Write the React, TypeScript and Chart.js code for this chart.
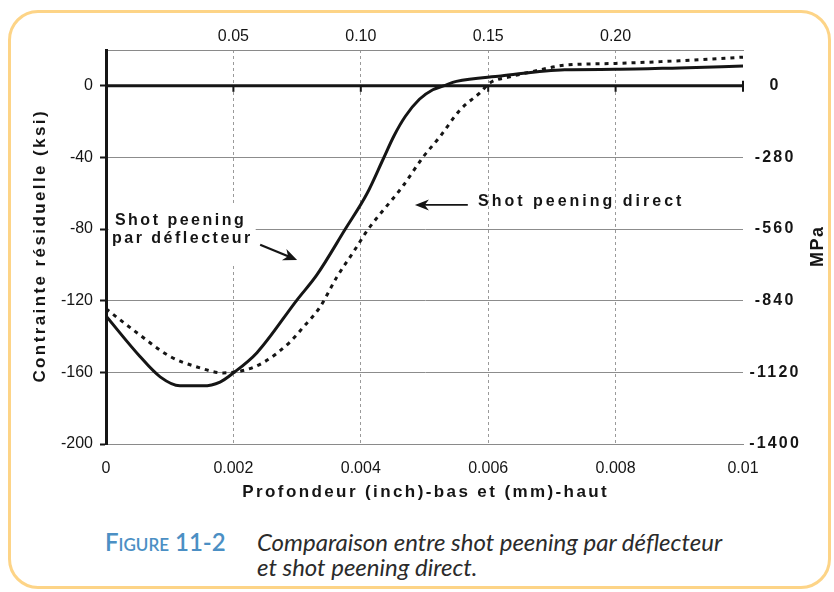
import React, { useEffect, useRef } from "react";
import { Chart, registerables } from "chart.js";

Chart.register(...registerables);

// ---------- data ----------
const depthTicks = [0, 0.002, 0.004, 0.006, 0.008, 0.01];
const depthTickLabels = ["0", "0.002", "0.004", "0.006", "0.008", "0.01"];
const mmTicks = [0.002, 0.004, 0.006, 0.008];
const mmTickLabels = ["0.05", "0.10", "0.15", "0.20"];
const ksiTicks = [0, -40, -80, -120, -160, -200];
const mpaTicks = [0, -280, -560, -840, -1120, -1400];

// Shot peening par déflecteur (solid)
const deflX = [0, 0.00053, 0.00085, 0.00116, 0.00152, 0.00179, 0.002, 0.00237, 0.003, 0.00331, 0.00375, 0.0041, 0.00435, 0.00452, 0.0047, 0.00492, 0.00513, 0.0053, 0.0055, 0.0062, 0.0072, 0.008, 0.009, 0.01];
const deflY = [-128.5, -151, -162.5, -167.5, -167.5, -165.4, -160.3, -149, -119.5, -105.6, -80.4, -60, -41, -28, -17, -7.5, -2.2, 0, 2.5, 5.5, 9, 9.2, 10, 11];

// Shot peening direct (dotted)
const directX = [0, 0.00049, 0.001, 0.00143, 0.00184, 0.00215, 0.00246, 0.00289, 0.0031, 0.00336, 0.00362, 0.00388, 0.00411, 0.00466, 0.00498, 0.00524, 0.00556, 0.00587, 0.00603, 0.00634, 0.0067, 0.0072, 0.008, 0.009, 0.01];
const directY = [-124.5, -138, -151, -157, -160.3, -159, -154.7, -143, -134.6, -123.5, -107, -93, -80.4, -56, -39.7, -28.5, -13.4, -3.9, 1.7, 5, 8, 11.5, 12.5, 14, 16];

// ---------- texts ----------
const xTitle = "Profondeur (inch)-bas et (mm)-haut";
const yTitle = "Contrainte résiduelle (ksi)";
const y2Title = "MPa";
const deflLabel = ["Shot peening", "par déflecteur"];
const directLabel = "Shot peening direct";
const captionNum = "Figure 11-2";
const captionLines = ["Comparaison entre shot peening par déflecteur", "et shot peening direct."];

// ---------- annotation anchors (data units) ----------
const deflLabelPos = [
  { x: 0.00014, y: -77.6 },
  { x: 0.000094, y: -87.7 },
];
const deflBox = { x0: 0.00004, x1: 0.00235, y0: -66.5, y1: -100.6 };
const deflArrow = { x0: 0.00242, y0: -88.8, x1: 0.003, y1: -97.2 };
const directLabelPos = { x: 0.00584, y: -67 };
const directArrow = { x0: 0.00568, y0: -66.5, x1: 0.00485, y1: -66.5 };

const FONT = "'Liberation Sans', Arial, sans-serif";
const INK = "#151515";

function spacedText(
  ctx: CanvasRenderingContext2D,
  text: string,
  x: number,
  y: number,
  font: string,
  spacing: number,
  align: "left" | "center",
  baseline: CanvasTextBaseline = "alphabetic"
) {
  ctx.save();
  ctx.font = font;
  (ctx as any).letterSpacing = spacing + "px";
  ctx.fillStyle = INK;
  ctx.textBaseline = baseline;
  ctx.textAlign = "left";
  const w = ctx.measureText(text).width - spacing;
  const sx = align === "center" ? x - w / 2 : x;
  ctx.fillText(text, sx, y);
  ctx.restore();
}

function arrow(
  ctx: CanvasRenderingContext2D,
  x1: number,
  y1: number,
  x2: number,
  y2: number,
  head: number,
  half: number,
  width: number
) {
  const ang = Math.atan2(y2 - y1, x2 - x1);
  const c = Math.cos(ang);
  const s = Math.sin(ang);
  ctx.save();
  ctx.strokeStyle = INK;
  ctx.fillStyle = INK;
  ctx.lineWidth = width;
  ctx.beginPath();
  ctx.moveTo(x1, y1);
  ctx.lineTo(x2 - c * head * 0.6, y2 - s * head * 0.6);
  ctx.stroke();
  ctx.beginPath();
  ctx.moveTo(x2, y2);
  ctx.lineTo(x2 - c * head - s * half, y2 - s * head + c * half);
  ctx.lineTo(x2 - c * head * 0.7, y2 - s * head * 0.7);
  ctx.lineTo(x2 - c * head + s * half, y2 - s * head - c * half);
  ctx.closePath();
  ctx.fill();
  ctx.restore();
}

const overlayPlugin = {
  id: "overlay",
  beforeDatasetsDraw(chart: any) {
    const { ctx, chartArea: a, scales } = chart;
    const xs = scales.x;
    const ys = scales.y;
    ctx.save();
    // white box behind the deflector label
    const bx0 = xs.getPixelForValue(deflBox.x0);
    const bx1 = xs.getPixelForValue(deflBox.x1);
    const by0 = ys.getPixelForValue(deflBox.y0);
    const by1 = ys.getPixelForValue(deflBox.y1);
    ctx.fillStyle = "#ffffff";
    ctx.fillRect(bx0, by0, bx1 - bx0, by1 - by0);
    // thick zero line with ticks
    const y0 = ys.getPixelForValue(0);
    ctx.strokeStyle = INK;
    ctx.lineWidth = 3;
    ctx.beginPath();
    ctx.moveTo(a.left, y0);
    ctx.lineTo(a.right, y0);
    ctx.stroke();
    ctx.lineWidth = 2;
    depthTicks.slice(1).forEach((v, i, arr) => {
      const px = xs.getPixelForValue(v);
      ctx.beginPath();
      ctx.moveTo(px, i === arr.length - 1 ? y0 - 5 : y0);
      ctx.lineTo(px, y0 + 6);
      ctx.stroke();
    });
    ctx.restore();
  },
  afterDraw(chart: any) {
    const { ctx, chartArea: a, scales } = chart;
    const xs = scales.x;
    const ys = scales.y;
    const y2 = scales.y2;
    const midY = (a.top + a.bottom) / 2;
    const titleFont = `bold 17px ${FONT}`;

    // bottom title
    spacedText(ctx, xTitle, (a.left + a.right) / 2, a.bottom + 48, titleFont, 2.4, "center", "middle");

    // left title
    ctx.save();
    ctx.translate(a.left - 66, midY);
    ctx.rotate(-Math.PI / 2);
    spacedText(ctx, yTitle, 0, 0, titleFont, 2.4, "center", "middle");
    ctx.restore();

    // right title
    ctx.save();
    ctx.translate(a.right + 75, midY);
    ctx.rotate(-Math.PI / 2);
    spacedText(ctx, y2Title, 0, 0, `bold 18px ${FONT}`, 1.5, "center", "middle");
    ctx.restore();

    // right tick labels (MPa)
    mpaTicks.forEach((v) => {
      spacedText(ctx, String(v), a.right + 31, y2.getPixelForValue(v), `bold 16px ${FONT}`, 2.2, "center", "middle");
    });

    // annotations
    const lf = `bold 16px ${FONT}`;
    deflLabel.forEach((t, i) => {
      spacedText(ctx, t, xs.getPixelForValue(deflLabelPos[i].x), ys.getPixelForValue(deflLabelPos[i].y), lf, 2.5, "left");
    });
    arrow(
      ctx,
      xs.getPixelForValue(deflArrow.x0),
      ys.getPixelForValue(deflArrow.y0),
      xs.getPixelForValue(deflArrow.x1),
      ys.getPixelForValue(deflArrow.y1),
      14,
      6,
      2.2
    );
    spacedText(ctx, directLabel, xs.getPixelForValue(directLabelPos.x), ys.getPixelForValue(directLabelPos.y), lf, 3, "left");
    arrow(
      ctx,
      xs.getPixelForValue(directArrow.x0),
      ys.getPixelForValue(directArrow.y0),
      xs.getPixelForValue(directArrow.x1),
      ys.getPixelForValue(directArrow.y1),
      14,
      5.5,
      1.8
    );
  },
};

function ChartCanvas() {
  const ref = useRef<HTMLCanvasElement | null>(null);
  useEffect(() => {
    if (!ref.current) return;
    const tickFont = { family: FONT, size: 16 };
    const chart = new Chart(ref.current, {
      type: "scatter",
      data: {
        datasets: [
          {
            label: "Shot peening par déflecteur",
            data: deflX.map((x, i) => ({ x, y: deflY[i] })),
            borderColor: INK,
            borderWidth: 3,
            showLine: true,
            pointRadius: 0,
            cubicInterpolationMode: "monotone",
            xAxisID: "x",
            yAxisID: "y",
          },
          {
            label: "Shot peening direct",
            data: directX.map((x, i) => ({ x, y: directY[i] })),
            borderColor: INK,
            borderWidth: 3,
            borderDash: [4, 5],
            showLine: true,
            pointRadius: 0,
            cubicInterpolationMode: "monotone",
            xAxisID: "x",
            yAxisID: "y",
          },
        ],
      },
      options: {
        responsive: false,
        animation: false,
        layout: { padding: 0 },
        plugins: {
          legend: { display: false },
          tooltip: { enabled: false },
          title: { display: false },
        },
        scales: {
          x: {
            type: "linear",
            position: "bottom",
            min: 0,
            max: 0.01,
            afterBuildTicks: (s: any) => {
              s.ticks = depthTicks.map((v) => ({ value: v }));
            },
            afterFit: (s: any) => {
              s.height = 76;
            },
            ticks: {
              callback: (_v: any, i: number) => depthTickLabels[i],
              font: tickFont,
              color: INK,
              padding: 15,
              maxRotation: 0,
              autoSkip: false,
            },
            grid: {
              color: (c: any) =>
                c.tick && (c.tick.value === 0 || c.tick.value === 0.01) ? "rgba(0,0,0,0)" : "#9a9a9a",
              lineWidth: 1,
              drawTicks: false,
            },
            border: { display: true, color: "#8a8a8a", width: 1, dash: [3, 3] },
          },
          x2: {
            type: "linear",
            position: "top",
            min: 0,
            max: 0.01,
            afterBuildTicks: (s: any) => {
              s.ticks = mmTicks.map((v) => ({ value: v }));
            },
            afterFit: (s: any) => {
              s.height = 50;
            },
            ticks: {
              callback: (_v: any, i: number) => mmTickLabels[i],
              font: tickFont,
              color: INK,
              padding: 4,
              maxRotation: 0,
              autoSkip: false,
            },
            grid: { display: false, drawTicks: false },
            border: { display: true, color: "#8a8a8a", width: 1 },
          },
          y: {
            type: "linear",
            position: "left",
            min: -200,
            max: 20,
            afterBuildTicks: (s: any) => {
              s.ticks = ksiTicks.map((v) => ({ value: v }));
            },
            afterFit: (s: any) => {
              s.width = 106;
            },
            ticks: {
              callback: (v: any) => String(v),
              font: tickFont,
              color: INK,
              padding: 7,
            },
            grid: {
              color: (c: any) =>
                c.tick && (c.tick.value === 0 || c.tick.value === -200) ? "rgba(0,0,0,0)" : "#8c8c8c",
              lineWidth: 1,
              tickColor: INK,
              tickLength: 6,
              tickWidth: 2,
              drawTicks: true,
            },
            border: { display: true, color: INK, width: 3 },
          },
          y2: {
            type: "linear",
            position: "right",
            min: -1400,
            max: 140,
            afterBuildTicks: (s: any) => {
              s.ticks = mpaTicks.map((v) => ({ value: v }));
            },
            afterFit: (s: any) => {
              s.width = 91;
            },
            ticks: { display: false },
            grid: { display: false, drawTicks: false },
            border: { display: false },
          },
        },
      } as any,
      plugins: [overlayPlugin],
    });
    return () => chart.destroy();
  }, []);
  return <canvas ref={ref} width={834} height={520} style={{ position: "absolute", left: 0, top: 0, width: 834, height: 520 }} />;
}

export default function App() {
  return (
    <div style={{ position: "absolute", left: 0, top: 0, width: 834, height: 592, overflow: "hidden", background: "#fff" }}>
      <div
        style={{
          position: "absolute",
          left: 8,
          top: 10,
          width: 823,
          height: 579,
          boxSizing: "border-box",
          border: "3px solid #fdd487",
          borderRadius: 30,
        }}
      />
      <ChartCanvas />
      <div
        style={{
          position: "absolute",
          left: 105,
          top: 529,
          display: "flex",
          fontFamily: "Lato, 'Open Sans', sans-serif",
          lineHeight: "25px",
        }}
      >
        <div style={{ width: 152, color: "#4b8fc4", fontWeight: 600, fontVariant: "small-caps", fontSize: 24 }}>
          {captionNum}
        </div>
        <div style={{ fontStyle: "italic", fontSize: 24, color: "#2b2b2b" }}>
          {captionLines.map((l, i) => (
            <div key={i}>{l}</div>
          ))}
        </div>
      </div>
    </div>
  );
}
